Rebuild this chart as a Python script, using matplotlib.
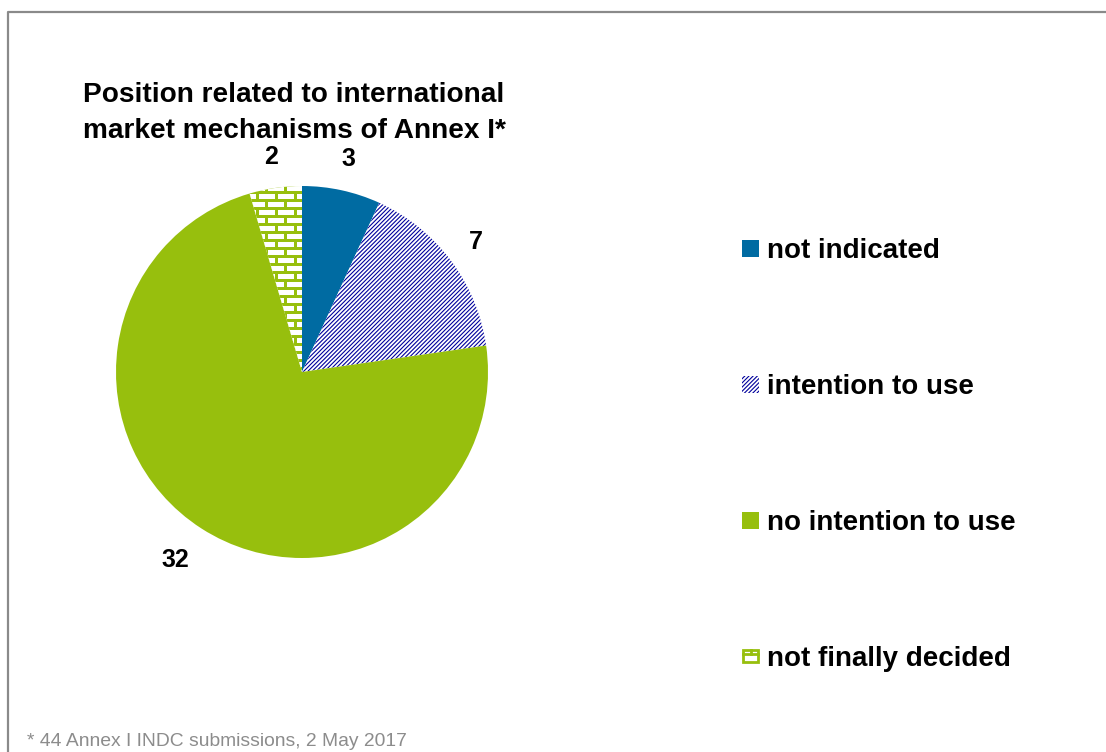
import matplotlib
matplotlib.use("Agg")
import matplotlib.pyplot as plt
from matplotlib import font_manager
from matplotlib.patches import Rectangle
from matplotlib.lines import Line2D
from matplotlib.collections import PatchCollection

# ---- data ----
categories = ["not indicated", "intention to use", "no intention to use", "not finally decided"]
counts = [3, 7, 32, 2]
title = "Position related to international\nmarket mechanisms of Annex I*"
footnote = "* 44 Annex I INDC submissions, 2 May 2017"

# ---- styles ----
BLUE = "#006BA2"
GREEN = "#97BF0D"
NAVY = "#00009C"
GREY = "#8C8C8C"

installed = {f.name for f in font_manager.fontManager.ttflist}
FONT = [f for f in ["Liberation Sans Narrow", "Liberation Sans", "DejaVu Sans"] if f in installed]
plt.rcParams["font.family"] = FONT
plt.rcParams["hatch.linewidth"] = 0.8

W, H, DPI = 1106, 752, 100
fig = plt.figure(figsize=(W / DPI, H / DPI), dpi=DPI)
fig.patch.set_facecolor("white")


def fx(px):
    return px / W


def fy(py):
    return 1 - py / H


# frame line along the top and left
frame = fig.add_axes([0, 0, 1, 1], zorder=-5)
frame.set_xlim(0, W)
frame.set_ylim(H, 0)
frame.axis("off")
frame.plot([8, 8, W + 5], [H + 5, 12, 12], color="#8A8A8A", lw=1.6, solid_capstyle="butt")

# pie axes: centre (302, 372), radius 186 px
cx, cy, r = 302, 372, 186
ax = fig.add_axes([fx(cx - r), fy(cy + r), 2 * r / W, 2 * r / H])

label_r = 1.17
wedges, texts = ax.pie(
    counts,
    labels=[str(c) for c in counts],
    startangle=90,
    counterclock=False,
    radius=1,
    labeldistance=label_r,
    colors=[BLUE, "white", GREEN, GREEN],
    wedgeprops=dict(linewidth=0),
    textprops=dict(fontsize=18, fontweight="bold", color="black"),
    frame=False,
)
ax.set_xlim(-1, 1)
ax.set_ylim(-1, 1)
ax.set_aspect("auto")
ax.axis("off")

# centre the value labels on their anchor points; push the big slice's label a bit further
for i, t in enumerate(texts):
    t.set_ha("center")
    t.set_va("center")
    if i == 2:
        x, y = t.get_position()
        t.set_position((x * 1.20 / label_r - 0.03, y * 1.20 / label_r))

# dense diagonal hatching for "intention to use"
wedges[1].set_hatch("////////")
wedges[1].set_edgecolor(NAVY)
wedges[1].set_linewidth(0)

# brick pattern for "not finally decided": white bricks on green mortar
bw, bh = 16 / r, 5.5 / r   # brick size
pw, ph = 19 / r, 8 / r     # pitch
bricks = []
row = 0
y = -1.05
while y < 1.05:
    x = -1.05 + (pw / 2 if row % 2 else 0)
    while x < 1.05:
        bricks.append(Rectangle((x, y), bw, bh))
        x += pw
    y += ph
    row += 1
pc = PatchCollection(bricks, facecolor="white", edgecolor="none")
ax.add_collection(pc)
pc.set_clip_path(wedges[3])

# title
fig.text(fx(83), fy(82), title, fontsize=20.2, fontweight="bold", ha="left", va="top",
         linespacing=1.5)

# legend
leg_y = [248, 384, 520, 656]
s = 17
x0 = 742
for i, (lab, yy) in enumerate(zip(categories, leg_y)):
    box = (fx(x0), fy(yy + s / 2))
    if i == 0:
        fig.patches.append(Rectangle(box, s / W, s / H, facecolor=BLUE,
                                     edgecolor="none", transform=fig.transFigure))
    elif i == 1:
        fig.patches.append(Rectangle(box, s / W, s / H, facecolor="white",
                                     edgecolor=NAVY, linewidth=0, hatch="////////",
                                     transform=fig.transFigure))
    elif i == 2:
        fig.patches.append(Rectangle(box, s / W, s / H, facecolor=GREEN,
                                     edgecolor="none", transform=fig.transFigure))
    else:
        # small brick icon
        lw = 2.0
        fig.patches.append(Rectangle((fx(x0 + 1), fy(yy + 6)), (s - 2) / W, 12 / H,
                                     facecolor="none", edgecolor=GREEN, linewidth=lw,
                                     transform=fig.transFigure))
        fig.lines.append(Line2D([fx(x0 + 1), fx(x0 + s - 1)], [fy(yy - 2)] * 2, color=GREEN,
                                lw=lw, transform=fig.transFigure))
        fig.lines.append(Line2D([fx(x0 + s / 2)] * 2, [fy(yy - 6), fy(yy - 2)], color=GREEN,
                                lw=lw, transform=fig.transFigure))
    fig.text(fx(767), fy(yy), lab, fontsize=20, fontweight="bold", ha="left",
             va="center_baseline")

# footnote
fig.text(fx(27), fy(746), footnote, fontsize=13.9, color=GREY, ha="left", va="baseline")

fig.savefig("out.png", dpi=DPI, facecolor="white")
